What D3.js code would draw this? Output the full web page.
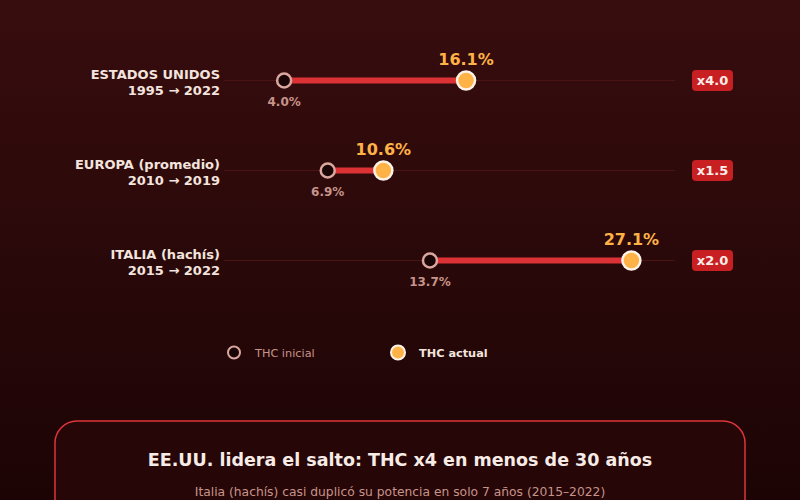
<!DOCTYPE html>
<html lang="es">
<head>
<meta charset="UTF-8">
<title>THC inicial vs actual</title>
<style>
    body { margin: 0; background: #2a0808; }
    svg { display: block; font-family: "DejaVu Sans", sans-serif; }
</style>
</head>
<body>
<div id="chart"></div>
<script src="https://d3js.org/d3.v7.min.js"></script>
<script>
    // data
    const regions = ["ESTADOS UNIDOS", "EUROPA (promedio)", "ITALIA (hachís)"];
    const periods = ["1995 → 2022", "2010 → 2019", "2015 → 2022"];
    const thcInicial = [4.0, 6.9, 13.7];
    const thcActual = [16.1, 10.6, 27.1];
    const factors = ["x4.0", "x1.5", "x2.0"];

    const width = 800, height = 500;

    const svg = d3.select("#chart").append("svg")
        .attr("width", width)
        .attr("height", height);

    const defs = svg.append("defs");
    const bg = defs.append("linearGradient").attr("id", "bg")
        .attr("x1", 0).attr("y1", 0).attr("x2", 0).attr("y2", 1);
    bg.append("stop").attr("offset", "0%").attr("stop-color", "#380d0e");
    bg.append("stop").attr("offset", "100%").attr("stop-color", "#1c0405");

    svg.append("rect")
        .attr("width", width).attr("height", height)
        .attr("fill", "url(#bg)");

    const x = d3.scaleLinear().domain([0, 30]).range([224, 675]);
    const y = d3.scalePoint().domain(regions).range([80.5, 260.5]);

    const rows = svg.selectAll(".row")
        .data(regions)
        .join("g")
        .attr("class", "row")
        .attr("transform", d => `translate(0, ${y(d)})`);

    // faint guide line
    rows.append("line")
        .attr("x1", x(0)).attr("x2", x(30))
        .attr("stroke", "#4a1414").attr("stroke-width", 1);

    // labels
    rows.append("text")
        .attr("x", 220).attr("y", -2)
        .attr("text-anchor", "end")
        .attr("font-size", 13).attr("font-weight", "bold")
        .attr("fill", "#f3e4de")
        .text(d => d);
    rows.append("text")
        .attr("x", 220).attr("y", 14)
        .attr("text-anchor", "end")
        .attr("font-size", 13).attr("font-weight", "bold")
        .attr("fill", "#f3e4de")
        .text((d, i) => periods[i]);

    // connecting bar
    rows.append("line")
        .attr("x1", (d, i) => x(thcInicial[i]))
        .attr("x2", (d, i) => x(thcActual[i]))
        .attr("stroke", "#dc3236").attr("stroke-width", 6);

    // initial dot
    rows.append("circle")
        .attr("cx", (d, i) => x(thcInicial[i]))
        .attr("r", 7)
        .attr("fill", "#1a0506")
        .attr("stroke", "#d9a79d").attr("stroke-width", 2.5);

    // current dot
    rows.append("circle")
        .attr("cx", (d, i) => x(thcActual[i]))
        .attr("r", 9)
        .attr("fill", "#ffb347")
        .attr("stroke", "#fff3e8").attr("stroke-width", 2.5);

    rows.append("text")
        .attr("x", (d, i) => x(thcActual[i]))
        .attr("y", -16)
        .attr("text-anchor", "middle")
        .attr("font-size", 16).attr("font-weight", "bold")
        .attr("fill", "#ffb347")
        .text((d, i) => thcActual[i].toFixed(1) + "%");

    rows.append("text")
        .attr("x", (d, i) => x(thcInicial[i]))
        .attr("y", 25)
        .attr("text-anchor", "middle")
        .attr("font-size", 12).attr("font-weight", "bold")
        .attr("fill", "#c6948a")
        .text((d, i) => thcInicial[i].toFixed(1) + "%");

    // factor badge
    rows.append("rect")
        .attr("x", 692).attr("y", -10.5)
        .attr("width", 41).attr("height", 21)
        .attr("rx", 4)
        .attr("fill", "#c81f22");
    rows.append("text")
        .attr("x", 712.5).attr("y", 4.5)
        .attr("text-anchor", "middle")
        .attr("font-size", 13).attr("font-weight", "bold")
        .attr("fill", "#fbeee9")
        .text((d, i) => factors[i]);

    // legend
    const legend = svg.append("g").attr("transform", "translate(0, 352.5)");
    legend.append("circle")
        .attr("cx", 234).attr("r", 6)
        .attr("fill", "#1a0506")
        .attr("stroke", "#d9a79d").attr("stroke-width", 2);
    legend.append("text")
        .attr("x", 255).attr("y", 4)
        .attr("font-size", 11.3)
        .attr("fill", "#c6948a")
        .text("THC inicial");
    legend.append("circle")
        .attr("cx", 398).attr("r", 7)
        .attr("fill", "#ffb347")
        .attr("stroke", "#fff3e8").attr("stroke-width", 2);
    legend.append("text")
        .attr("x", 419).attr("y", 4)
        .attr("font-size", 11.3).attr("font-weight", "bold")
        .attr("fill", "#f3e4de")
        .text("THC actual");

    // takeaway box
    svg.append("rect")
        .attr("x", 55).attr("y", 421)
        .attr("width", 690).attr("height", 120)
        .attr("rx", 22)
        .attr("fill", "#260607")
        .attr("stroke", "#e0353a").attr("stroke-width", 1.5);
    svg.append("text")
        .attr("x", 400).attr("y", 466)
        .attr("text-anchor", "middle")
        .attr("font-size", 17.5).attr("font-weight", "bold")
        .attr("fill", "#f7ebe6")
        .text("EE.UU. lidera el salto: THC x4 en menos de 30 años");
    svg.append("text")
        .attr("x", 400).attr("y", 496)
        .attr("text-anchor", "middle")
        .attr("font-size", 12.3)
        .attr("fill", "#c6948a")
        .text("Italia (hachís) casi duplicó su potencia en solo 7 años (2015–2022)");
</script>
</body>
</html>
